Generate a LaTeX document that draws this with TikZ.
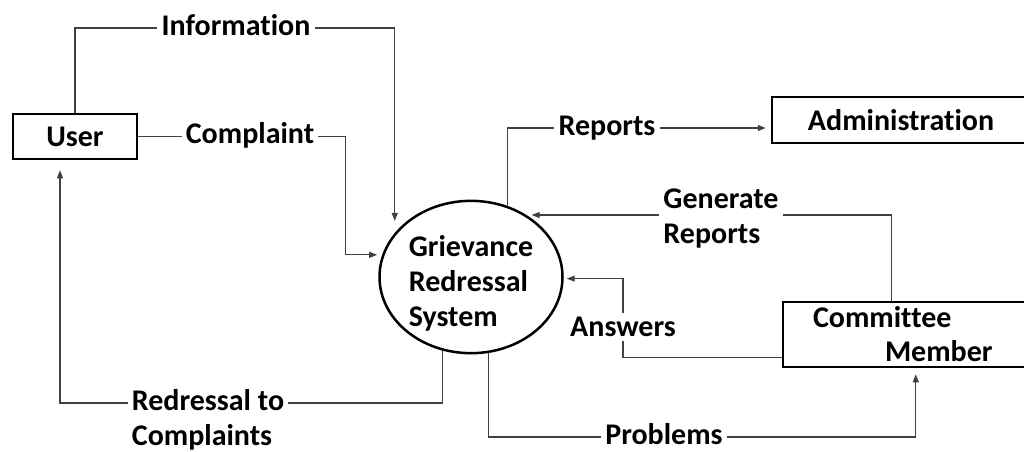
\documentclass[tikz,border=0pt]{standalone}
\usepackage{fontspec}
\setmainfont{Carlito}[Ligatures=NoCommon]
\usetikzlibrary{arrows.meta,shapes.geometric,calc,positioning}
\begin{document}
\fontsize{30}{35}\selectfont\bfseries
\begin{tikzpicture}[x=1pt,y=-1pt,
  entity/.style={draw,line width=2.5pt,inner sep=0pt},
  lbl/.style={inner xsep=4pt,inner ysep=0pt},
  flow/.style={draw=black!75,line width=1.1pt},
  arr/.style={flow,-{Triangle[length=8pt,width=6pt]}}]
\clip (0,0) rectangle (1024,451);
\fill[white] (0,0) rectangle (1024,451);
\node[entity,minimum width=124,minimum height=45] (user) at (75,136.5) {User};
\node[entity,minimum width=258,minimum height=46] (admin) at (901,120) {Administration};
\node[entity,minimum width=247,minimum height=65,align=left,text width=187,inner xsep=30,
  font=\fontsize{30}{34}\selectfont] (cmte) at (906.5,334.5) {Committee\\\hspace*{72pt}Member};
\node[ellipse,draw,line width=2.5pt,minimum width=183,minimum height=150,inner sep=0pt,align=left] (gsys) at (471,277) {\rule{0pt}{33pt}Grievance\\Redressal\\System};
\node[lbl,anchor=mid] (info) at (236,28) {Information};
\node[lbl,anchor=mid] (cmpl) at (250,136.5) {Complaint};
\node[lbl,anchor=mid] (rpts) at (607,128) {Reports};
\node[lbl,align=left] (gen) at (721,219) {Generate\\Reports};
\node[lbl,inner ysep=4pt] (ans) at (623,327) {Answers};
\node[lbl,anchor=mid] (redr) at (208,403) {Redressal to};
\node[lbl,anchor=mid west] (cmpls) at ($(redr.mid west)+(0,35)$) {Complaints};
\node[lbl,anchor=mid] (prob) at (664,437) {Problems};
\draw[flow] (user.north) |- (info.mid west);
\draw[arr,shorten >=12pt] (info.mid east) -| (gsys.150);
\draw[flow] (user.east) -- (cmpl.mid west);
\draw[arr,shorten >=5pt] (cmpl.mid east) -- ++(27,0) |- (gsys.166);
\draw[flow] (gsys.63) |- (rpts.mid west);
\draw[arr,shorten >=5pt] (rpts.mid east) -- (rpts.mid east -| admin.west);
\draw[flow] ($(cmte.north west)+(110,0)$) |- ([yshift=4pt]gen.east);
\draw[arr,shorten >=10pt] ([yshift=4pt]gen.west) -- ([yshift=4pt]gen.west -| gsys.52);
\draw[flow] ($(cmte.south west)+(0,-11)$) -| (ans.south);
\draw[arr,shorten >=3pt] (ans.north) |- (gsys.359);
\draw[flow] (gsys.249) |- (redr.mid east);
\draw[arr,shorten >=10pt] (redr.mid west) -| ($(user.south)+(-15,0)$);
\draw[flow] (gsys.283) |- (prob.mid west);
\draw[arr,shorten >=6pt] (prob.mid east) -| ($(cmte.south west)+(134,0)$);
\end{tikzpicture}
\end{document}
